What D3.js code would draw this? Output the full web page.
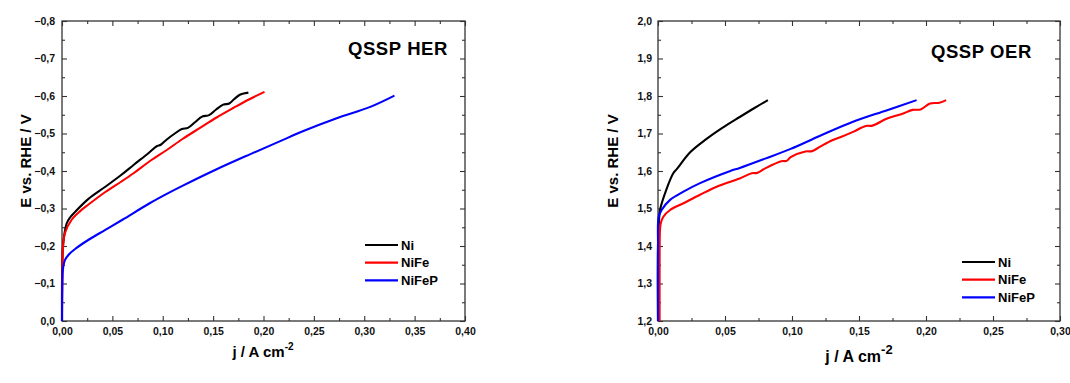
<!DOCTYPE html>
<html>
<head>
<meta charset="utf-8">
<script src="https://cdn.jsdelivr.net/npm/d3@7"></script>
<style>
  html, body { margin: 0; padding: 0; background: #fff; }
  svg { display: block; font-family: "Liberation Sans", Arial, sans-serif; }
  .tick text { font-weight: bold; fill: #111; }
</style>
</head>
<body>
<svg id="chart" width="1070" height="383"></svg>
<script>
// series names + colours
const seriesNames = ["Ni", "NiFe", "NiFeP"];
const seriesColors = ["#000000", "#ff0000", "#0000ff"];

// QSSP HER curves, [j (A cm-2), E vs RHE (V)]
const herNi = [
  [0, 0], [0, -0.10], [0.0005, -0.17], [0.0012, -0.207], [0.0046, -0.26],
  [0.008, -0.276], [0.013, -0.291], [0.026, -0.325], [0.043, -0.358],
  [0.059, -0.39], [0.071, -0.416], [0.086, -0.448], [0.094, -0.466],
  [0.098, -0.47], [0.104, -0.484], [0.112, -0.5], [0.119, -0.512],
  [0.125, -0.515], [0.132, -0.53], [0.139, -0.545], [0.146, -0.549],
  [0.153, -0.564], [0.16, -0.577], [0.166, -0.58], [0.171, -0.592],
  [0.177, -0.604], [0.185, -0.609]
];
const herNiFe = [
  [0, 0], [0.0004, -0.12], [0.0008, -0.19], [0.003, -0.235], [0.0096, -0.27],
  [0.018, -0.293], [0.026, -0.31], [0.043, -0.344], [0.059, -0.372],
  [0.071, -0.394], [0.087, -0.426], [0.104, -0.456], [0.12, -0.486],
  [0.137, -0.515], [0.153, -0.542], [0.17, -0.568], [0.185, -0.59],
  [0.201, -0.611]
];
const herNiFeP = [
  [0, 0], [0.0003, -0.10], [0.0008, -0.136], [0.003, -0.163], [0.007, -0.178],
  [0.013, -0.192], [0.026, -0.216], [0.043, -0.243], [0.06, -0.27],
  [0.087, -0.314], [0.104, -0.339], [0.12, -0.361], [0.153, -0.404],
  [0.187, -0.445], [0.216, -0.479], [0.239, -0.506], [0.272, -0.54],
  [0.306, -0.571], [0.33, -0.601]
];

// QSSP OER curves, [j (A cm-2), E vs RHE (V)]
const oerNi = [
  [0, 1.2], [0, 1.40], [0.0008, 1.47], [0.0015, 1.496], [0.0065, 1.553],
  [0.0114, 1.594], [0.014, 1.605], [0.024, 1.65], [0.036, 1.685],
  [0.048, 1.715], [0.061, 1.744], [0.072, 1.768], [0.082, 1.789]
];
const oerNiFe = [
  [0.0012, 1.2], [0.0012, 1.35], [0.0014, 1.435], [0.002, 1.46], [0.004, 1.478],
  [0.009, 1.496], [0.019, 1.514], [0.031, 1.536], [0.045, 1.56], [0.061, 1.58],
  [0.07, 1.594], [0.074, 1.595], [0.08, 1.607], [0.092, 1.626], [0.096, 1.627],
  [0.099, 1.637], [0.11, 1.652], [0.115, 1.653], [0.121, 1.665],
  [0.13, 1.682], [0.136, 1.69], [0.146, 1.705], [0.155, 1.72], [0.16, 1.721],
  [0.171, 1.74], [0.182, 1.752], [0.19, 1.763], [0.196, 1.764], [0.203, 1.78],
  [0.21, 1.782], [0.215, 1.789]
];
const oerNiFeP = [
  [0, 1.2], [0, 1.40], [0.0005, 1.478], [0.0027, 1.496], [0.009, 1.523],
  [0.019, 1.545], [0.031, 1.567], [0.054, 1.600], [0.061, 1.608],
  [0.08, 1.633], [0.099, 1.659], [0.121, 1.694], [0.146, 1.732],
  [0.171, 1.762], [0.193, 1.789]
];

// tick values
const herXTicks = d3.range(0, 0.4001, 0.05);
const herYTicks = d3.range(0, -0.8001, -0.1);
const oerXTicks = d3.range(0, 0.3001, 0.05);
const oerYTicks = d3.range(1.2, 2.0001, 0.1);

const panels = [
  {
    left: 62, right: 465, top: 21, bottom: 321,
    xDomain: [0, 0.4], yDomain: [0, -0.8],
    xTicks: herXTicks, yTicks: herYTicks,
    series: [herNi, herNiFe, herNiFeP],
    title: "QSSP HER", titleX: 448, titleY: 55,
    legendX: 365, legendY: 245,
    yLabelX: 30.5, xLabelX: 263, xLabelY: 357,
    xLabelSize: 15, supSize: 10, supRaise: 7, yPad: 7
  },
  {
    left: 658, right: 1060, top: 21, bottom: 321,
    xDomain: [0, 0.3], yDomain: [1.2, 2.0],
    xTicks: oerXTicks, yTicks: oerYTicks,
    series: [oerNi, oerNiFe, oerNiFeP],
    title: "QSSP OER", titleX: 1032, titleY: 57.5,
    legendX: 962, legendY: 262,
    yLabelX: 618, xLabelX: 859, xLabelY: 361.5,
    xLabelSize: 16, supSize: 13, supRaise: 7.5, yPad: 6
  }
];

const svg = d3.select("#chart");
const fmtX = (d) => d3.format(".2f")(d).replace(".", ",");
const fmtY = (d) => d3.format(".1f")(Math.abs(d) < 1e-9 ? 0 : d).replace(".", ",");

function minors(ticks) {
  const out = [];
  for (let i = 0; i < ticks.length - 1; i++) out.push((ticks[i] + ticks[i + 1]) / 2);
  return out;
}

panels.forEach((p) => {
  const x = d3.scaleLinear().domain(p.xDomain).range([p.left, p.right]);
  const y = d3.scaleLinear().domain(p.yDomain).range([p.bottom, p.top]);
  const g = svg.append("g");

  const xMinor = minors(p.xTicks);
  const yMinor = minors(p.yTicks);

  // major + minor ticks, all inward, on four sides
  const axes = [
    { ax: d3.axisBottom(x).tickValues(p.xTicks).tickSize(-5).tickPadding(7).tickFormat(fmtX), t: `translate(0,${p.bottom})` },
    { ax: d3.axisBottom(x).tickValues(xMinor).tickSize(-3).tickFormat(""), t: `translate(0,${p.bottom})` },
    { ax: d3.axisTop(x).tickValues(p.xTicks).tickSize(-5).tickFormat(""), t: `translate(0,${p.top})` },
    { ax: d3.axisTop(x).tickValues(xMinor).tickSize(-3).tickFormat(""), t: `translate(0,${p.top})` },
    { ax: d3.axisLeft(y).tickValues(p.yTicks).tickSize(-5).tickPadding(p.yPad).tickFormat(fmtY), t: `translate(${p.left},0)` },
    { ax: d3.axisLeft(y).tickValues(yMinor).tickSize(-3).tickFormat(""), t: `translate(${p.left},0)` },
    { ax: d3.axisRight(y).tickValues(p.yTicks).tickSize(-5).tickFormat(""), t: `translate(${p.right},0)` },
    { ax: d3.axisRight(y).tickValues(yMinor).tickSize(-3).tickFormat(""), t: `translate(${p.right},0)` }
  ];
  axes.forEach((a) => {
    const sel = g.append("g").attr("transform", a.t).call(a.ax.tickSizeOuter(0));
    sel.select(".domain").remove();
    sel.selectAll(".tick line").attr("stroke", "#333").attr("stroke-width", 1.1);
    sel.selectAll(".tick text").attr("font-size", 10.5);
  });

  // frame
  g.append("rect")
    .attr("x", p.left).attr("y", p.top)
    .attr("width", p.right - p.left).attr("height", p.bottom - p.top)
    .attr("fill", "none").attr("stroke", "#333").attr("stroke-width", 1.3);

  // curves
  const line = d3.line()
    .x((d) => x(d[0]))
    .y((d) => y(d[1]))
    .curve(d3.curveCatmullRom.alpha(0.5));
  p.series.forEach((s, i) => {
    g.append("path")
      .datum(s)
      .attr("d", line)
      .attr("fill", "none")
      .attr("stroke", seriesColors[i])
      .attr("stroke-width", 2.1)
      .attr("stroke-linejoin", "round");
  });

  // panel title
  g.append("text")
    .attr("x", p.titleX).attr("y", p.titleY)
    .attr("text-anchor", "end")
    .attr("font-size", 18.5).attr("font-weight", "bold")
    .attr("letter-spacing", 0.6)
    .text(p.title);

  // legend
  seriesNames.forEach((name, i) => {
    const ly = p.legendY + i * 17.7;
    g.append("line")
      .attr("x1", p.legendX).attr("x2", p.legendX + 33)
      .attr("y1", ly).attr("y2", ly)
      .attr("stroke", seriesColors[i]).attr("stroke-width", 2.2);
    g.append("text")
      .attr("x", p.legendX + 36).attr("y", ly)
      .attr("dy", "0.36em")
      .attr("font-size", 13).attr("font-weight", "bold")
      .text(name);
  });

  // axis titles
  g.append("text")
    .attr("transform", `translate(${p.yLabelX},161) rotate(-90)`)
    .attr("text-anchor", "middle")
    .attr("font-size", 15).attr("font-weight", "bold")
    .text("E vs. RHE / V");

  const xt = g.append("text")
    .attr("x", p.xLabelX).attr("y", p.xLabelY)
    .attr("text-anchor", "middle")
    .attr("font-weight", "bold");
  xt.append("tspan").attr("font-size", p.xLabelSize).text("j / A cm");
  xt.append("tspan").attr("font-size", p.supSize).attr("dy", -p.supRaise).text("-2");
});
</script>
</body>
</html>
